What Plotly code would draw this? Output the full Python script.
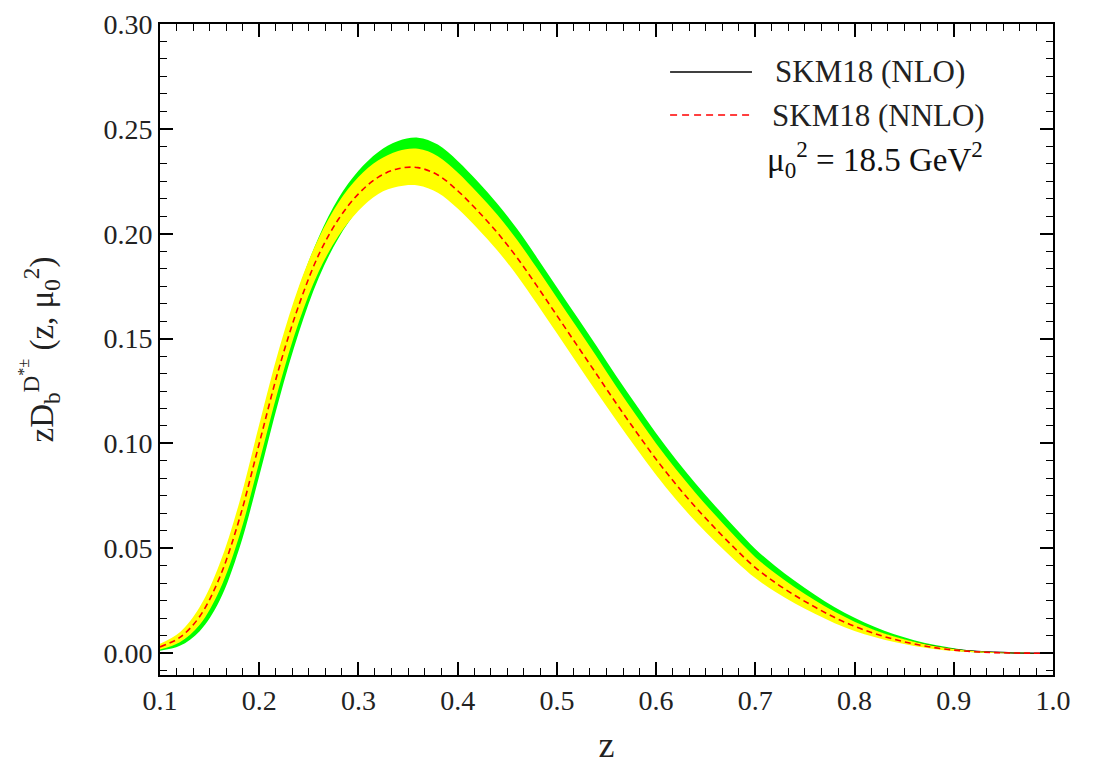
import plotly.graph_objects as go

# z grid
z = [0.10, 0.12, 0.14, 0.16, 0.18, 0.20, 0.22, 0.24, 0.26, 0.28,
     0.30, 0.32, 0.34, 0.36, 0.38, 0.40, 0.42, 0.44, 0.46, 0.48,
     0.50, 0.52, 0.54, 0.56, 0.58, 0.60, 0.62, 0.64, 0.66, 0.68,
     0.70, 0.72, 0.74, 0.76, 0.78, 0.80, 0.82, 0.84, 0.86, 0.88,
     0.90, 0.92, 0.94, 0.96, 0.98, 1.00]

# NNLO central (red dashed)
nnlo_c = [0.0030, 0.0075, 0.0175, 0.0360, 0.0640, 0.1000, 0.1360, 0.1660, 0.1900, 0.2070,
          0.2190, 0.2270, 0.2310, 0.2315, 0.2280, 0.2205, 0.2110, 0.2005, 0.1885, 0.1750,
          0.1610, 0.1470, 0.1330, 0.1190, 0.1055, 0.0925, 0.0805, 0.0695, 0.0593, 0.0497,
          0.0408, 0.0337, 0.0275, 0.0220, 0.0170, 0.0128, 0.0094, 0.0066, 0.0044, 0.0027,
          0.0015, 0.0007, 0.0003, 0.0001, 0.0000, 0.0000]
# NNLO band (yellow)
nnlo_lo = [0.0018, 0.0052, 0.0135, 0.0300, 0.0560, 0.0910, 0.1270, 0.1580, 0.1820, 0.1990,
           0.2110, 0.2190, 0.2225, 0.2230, 0.2195, 0.2120, 0.2025, 0.1920, 0.1800, 0.1665,
           0.1525, 0.1385, 0.1245, 0.1110, 0.0977, 0.0850, 0.0733, 0.0627, 0.0530, 0.0440,
           0.0358, 0.0293, 0.0237, 0.0188, 0.0143, 0.0106, 0.0077, 0.0053, 0.0034, 0.0020,
           0.0010, 0.0004, 0.0001, 0.0000, 0.0000, 0.0000]
nnlo_hi = [0.0045, 0.0100, 0.0220, 0.0425, 0.0720, 0.1090, 0.1450, 0.1750, 0.1980, 0.2150,
           0.2270, 0.2350, 0.2395, 0.2405, 0.2370, 0.2292, 0.2195, 0.2090, 0.1970, 0.1835,
           0.1695, 0.1555, 0.1415, 0.1270, 0.1133, 0.1000, 0.0877, 0.0763, 0.0656, 0.0554,
           0.0458, 0.0381, 0.0313, 0.0252, 0.0197, 0.0150, 0.0111, 0.0079, 0.0054, 0.0034,
           0.0020, 0.0010, 0.0005, 0.0002, 0.0001, 0.0000]
# NLO band (green)
nlo_lo = [0.0012, 0.0035, 0.0105, 0.0250, 0.0500, 0.0845, 0.1210, 0.1530, 0.1790, 0.1980,
          0.2115, 0.2200, 0.2240, 0.2250, 0.2220, 0.2150, 0.2055, 0.1950, 0.1830, 0.1695,
          0.1555, 0.1415, 0.1275, 0.1140, 0.1005, 0.0877, 0.0760, 0.0652, 0.0553, 0.0461,
          0.0377, 0.0310, 0.0252, 0.0201, 0.0154, 0.0115, 0.0084, 0.0058, 0.0038, 0.0023,
          0.0012, 0.0005, 0.0002, 0.0000, 0.0000, 0.0000]
nlo_hi = [0.0040, 0.0092, 0.0205, 0.0405, 0.0695, 0.1065, 0.1430, 0.1740, 0.1985, 0.2170,
          0.2300, 0.2390, 0.2442, 0.2458, 0.2425, 0.2347, 0.2250, 0.2143, 0.2022, 0.1886,
          0.1745, 0.1605, 0.1465, 0.1320, 0.1183, 0.1049, 0.0924, 0.0808, 0.0700, 0.0596,
          0.0497, 0.0416, 0.0344, 0.0279, 0.0219, 0.0169, 0.0126, 0.0090, 0.0062, 0.0040,
          0.0024, 0.0012, 0.0005, 0.0002, 0.0001, 0.0000]
# NLO central (black, lies within the bands)
nlo_c = [0.0026, 0.0064, 0.0155, 0.0328, 0.0598, 0.0955, 0.1320, 0.1635, 0.1888, 0.2075,
         0.2208, 0.2295, 0.2340, 0.2353, 0.2323, 0.2248, 0.2152, 0.2046, 0.1926, 0.1790,
         0.1650, 0.1510, 0.1370, 0.1230, 0.1094, 0.0963, 0.0842, 0.0730, 0.0626, 0.0528,
         0.0437, 0.0363, 0.0298, 0.0240, 0.0186, 0.0142, 0.0105, 0.0074, 0.0050, 0.0032,
         0.0018, 0.0009, 0.0004, 0.0001, 0.0000, 0.0000]

x_ticks = [0.1, 0.2, 0.3, 0.4, 0.5, 0.6, 0.7, 0.8, 0.9, 1.0]
y_ticks = [0.00, 0.05, 0.10, 0.15, 0.20, 0.25, 0.30]
legend_labels = ["SKM18 (NLO)", "SKM18 (NNLO)"]
scale_label = "μ<sub>0</sub><sup>2</sup> = 18.5 GeV<sup>2</sup>"

FONT = "Liberation Serif"

fig = go.Figure()
fig.add_trace(go.Scatter(x=z, y=nlo_lo, mode="lines", line=dict(width=0, shape="spline", color="#00ff00"),
                         showlegend=False, hoverinfo="skip"))
fig.add_trace(go.Scatter(x=z, y=nlo_hi, mode="lines", line=dict(width=0, shape="spline", color="#00ff00"),
                         fill="tonexty", fillcolor="#00ff00", showlegend=False, hoverinfo="skip"))
fig.add_trace(go.Scatter(x=z, y=nlo_c, mode="lines", name=legend_labels[0],
                         line=dict(width=1.5, shape="spline", color="black"), showlegend=False))
fig.add_trace(go.Scatter(x=z, y=nnlo_lo, mode="lines", line=dict(width=0, shape="spline", color="#ffff00"),
                         showlegend=False, hoverinfo="skip"))
fig.add_trace(go.Scatter(x=z, y=nnlo_hi, mode="lines", line=dict(width=0, shape="spline", color="#ffff00"),
                         fill="tonexty", fillcolor="#ffff00", showlegend=False, hoverinfo="skip"))
fig.add_trace(go.Scatter(x=z, y=nnlo_c, mode="lines", name=legend_labels[1],
                         line=dict(width=1.6, shape="spline", color="#ff0000", dash="6px,4px"),
                         showlegend=False))

# manual legend (samples + labels), in paper coordinates
fig.add_shape(type="line", xref="paper", yref="paper", x0=0.5712, x1=0.6629, y0=0.9263, y1=0.9263,
              line=dict(color="black", width=1.5))
fig.add_shape(type="line", xref="paper", yref="paper", x0=0.5712, x1=0.6629, y0=0.8602, y1=0.8602,
              line=dict(color="#ff0000", width=1.5, dash="7px,5px"))
fig.add_annotation(xref="paper", yref="paper", x=0.687, y=0.9263, text=legend_labels[0], showarrow=False,
                   xanchor="left", yanchor="middle", font=dict(family=FONT, size=31, color="#222"))
fig.add_annotation(xref="paper", yref="paper", x=0.683, y=0.8602, text=legend_labels[1], showarrow=False,
                   xanchor="left", yanchor="middle", font=dict(family=FONT, size=31, color="#222"))
fig.add_annotation(xref="paper", yref="paper", x=0.678, y=0.7911, text=scale_label, showarrow=False,
                   xanchor="left", yanchor="middle", font=dict(family=FONT, size=33, color="#111"))

axis_common = dict(
    showline=True, linecolor="black", linewidth=1.6, mirror="ticks",
    ticks="inside", ticklen=13, tickwidth=1.6, tickcolor="black",
    showgrid=False, zeroline=False, automargin=False, ticklabeloverflow="allow",
    tickfont=dict(family=FONT, size=28, color="#222"),
)
fig.update_xaxes(range=[0.1, 1.0], tickvals=x_ticks, tickformat=".1f",
                 minor=dict(ticks="inside", ticklen=7, tickwidth=1.3, tickcolor="black",
                            tick0=0.1, dtick=0.1 / 6, showgrid=False),
                 title=dict(text="z", font=dict(family=FONT, size=36, color="#222"), standoff=31),
                 **axis_common)
fig.update_yaxes(range=[-0.0104, 0.30], tickvals=y_ticks, tickformat=".2f",
                 minor=dict(ticks="inside", ticklen=7, tickwidth=1.3, tickcolor="black",
                            tick0=0.0, dtick=0.05 / 6, showgrid=False),
                 title=dict(text="zD<sub>b</sub><sup>D<sup>*±</sup></sup> (z, μ<sub>0</sub><sup>2</sup>)",
                            font=dict(family=FONT, size=33, color="#222"), standoff=40),
                 **axis_common)

# page body adds an 8px offset; size the figure so the plot frame lands where the reference has it
fig.update_layout(
    width=1094, height=757,
    margin=dict(l=152, r=49, t=16, b=90),
    paper_bgcolor="white", plot_bgcolor="white",
    showlegend=False,
)

fig.write_html("out.html")
